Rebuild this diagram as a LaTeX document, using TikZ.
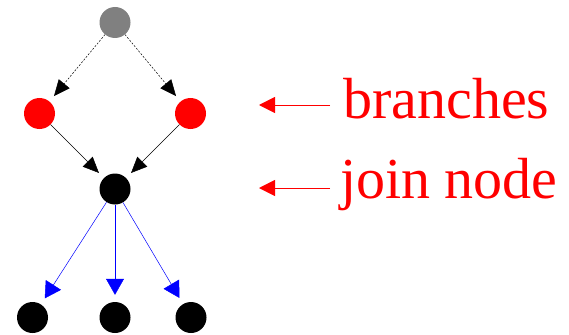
\documentclass[tikz,border=0pt]{standalone}
\usepackage{fontspec}
\setmainfont{Liberation Serif}
\usetikzlibrary{positioning,arrows.meta}
\tikzset{
  vertex/.style={circle,fill,inner sep=0pt,minimum size=31pt},
  edge/.style={-{Triangle[length=16pt,width=14pt]},line width=0.5pt,shorten >=7pt},
  outedge/.style={edge,blue,-{Triangle[length=16pt,width=18pt]}},
  pointer/.style={-{Triangle[length=16pt,width=16pt]},red,line width=0.5pt},
  note/.style={text=red,font=\fontsize{58}{60}\selectfont,anchor=base west,inner sep=0pt}
}

\begin{document}
\begin{tikzpicture}[x=1pt,y=-1pt]
\useasboundingbox (0,0) rectangle (569,334);
% Start node and the two branches
\node[vertex,fill=gray] (start) at (115,22.5) {};
\node[vertex,fill=red] (brl) at (39.5,113.5) {};
\node[vertex,fill=red] (brr) at (190.5,113.5) {};
\draw[edge,dash pattern=on 2pt off 1.5pt] (start) -- (brl);
\draw[edge,dash pattern=on 2pt off 1.5pt] (start) -- (brr);
% Join node
\node[vertex] (join) at (115,189) {};
\draw[edge] (brl) -- (join);
\draw[edge] (brr) -- (join);
% Successors of the join
\node[vertex] (outl) at (32.5,317.5) {};
\node[vertex] (outm) at (115,317.5) {};
\node[vertex] (outr) at (191,317.5) {};
\foreach \n in {outl,outm,outr}
  \draw[outedge] (join) -- (\n);
% Labels with their pointers
\node[note] (brtext) at (343,118) {branches};
\node[note] (jntext) at (340,198) {join node};
\coordinate (brtail) at (330,105);
\coordinate (brtip) at (259,105);
\coordinate (jntail) at (330,188);
\coordinate (jntip) at (259,188);
\draw[pointer] (brtail) -- (brtip);
\draw[pointer] (jntail) -- (jntip);
\end{tikzpicture}
\end{document}
